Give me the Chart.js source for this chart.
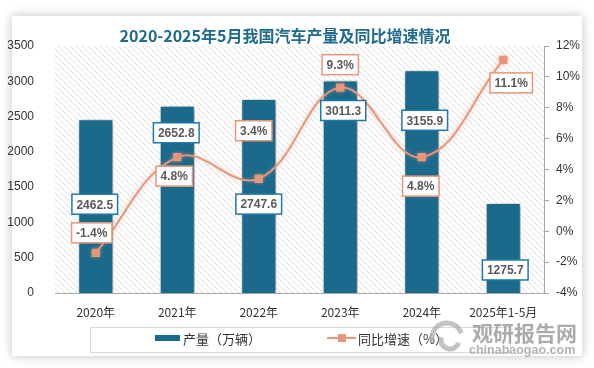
<!DOCTYPE html>
<html>
<head>
<meta charset="utf-8">
<script src="https://cdn.jsdelivr.net/npm/chart.js@4"></script>
<style>
  html, body { margin: 0; padding: 0; background: #fff; }
  #wrap { width: 594px; height: 368px; }
</style>
</head>
<body>
<div id="wrap"><canvas id="carChart" width="594" height="368"></canvas></div>
<script>
// 数据
const years = ['2020年', '2021年', '2022年', '2023年', '2024年', '2025年1-5月'];
const output = [2462.5, 2652.8, 2747.6, 3011.3, 3155.9, 1275.7];
const growth = [-1.4, 4.8, 3.4, 9.3, 4.8, 11.1];
const leftTicks = [0, 500, 1000, 1500, 2000, 2500, 3000, 3500];
const rightTicks = [-4, -2, 0, 2, 4, 6, 8, 10, 12];

// 标签偏移（像素）
const barLabelShift = [[-1, 85], [-1, 27], [0, 105], [3, 30], [3, 50], [2, 67]];
const lineLabelShift = [[-4, -20], [-3, 19], [-5, -48], [0, -23], [-1, 29], [8, 23]];

const BLUE = '#1b6a8c';
const SALMON = '#e8967a';

function hatchPattern(ctx) {
    const c = document.createElement('canvas');
    c.width = 6; c.height = 6;
    const p = c.getContext('2d');
    p.fillStyle = '#fff';
    p.fillRect(0, 0, 6, 6);
    p.strokeStyle = '#dcdcdc';
    p.lineWidth = 1;
    p.beginPath();
    p.moveTo(0, 0); p.lineTo(6, 6);
    p.moveTo(-3, 3); p.lineTo(3, 9);
    p.moveTo(3, -3); p.lineTo(9, 3);
    p.stroke();
    return ctx.createPattern(c, 'repeat');
}

function labelBox(ctx, text, x, y, border) {
    ctx.font = 'bold 12px "Liberation Sans", Arial, sans-serif';
    const w = ctx.measureText(text).width + 9;
    const h = 20;
    ctx.fillStyle = '#fff';
    ctx.fillRect(x - w / 2, y - h / 2, w, h);
    ctx.strokeStyle = border;
    ctx.lineWidth = 1.5;
    ctx.strokeRect(x - w / 2, y - h / 2, w, h);
    ctx.fillStyle = '#595959';
    ctx.textAlign = 'center';
    ctx.textBaseline = 'middle';
    ctx.fillText(text, x, y + 1);
}

const backdrop = {
    id: 'backdrop',
    beforeDraw(chart) {
        const ctx = chart.ctx;
        const a = chart.chartArea;
        ctx.save();
        ctx.shadowColor = 'rgba(0,0,0,0.25)';
        ctx.shadowBlur = 10;
        ctx.fillStyle = '#fff';
        ctx.fillRect(12, 16, 570, 340);
        ctx.restore();
        ctx.save();
        ctx.fillStyle = hatchPattern(ctx);
        ctx.fillRect(a.left, a.top, a.right - a.left, a.bottom - a.top);
        ctx.restore();
        // 标题
        ctx.save();
        ctx.font = 'bold 16px "Noto Sans CJK SC", sans-serif';
        ctx.fillStyle = '#1f6b8e';
        ctx.textAlign = 'center';
        ctx.textBaseline = 'middle';
        ctx.fillText('2020-2025年5月我国汽车产量及同比增速情况', 285, 36);
        ctx.restore();
    },
    beforeDatasetDraw(chart, args) {
        const ctx = chart.ctx;
        ctx.save();
        if (args.index === 0) {
            ctx.shadowColor = 'rgba(0,0,0,0.45)';
            ctx.shadowBlur = 6;
            ctx.shadowOffsetX = 2;
            ctx.shadowOffsetY = 1;
        } else {
            ctx.shadowColor = 'rgba(232,150,122,0.5)';
            ctx.shadowBlur = 4;
        }
    },
    afterDatasetDraw(chart) {
        chart.ctx.restore();
    },
    afterDraw(chart) {
        const ctx = chart.ctx;
        const bars = chart.getDatasetMeta(0).data;
        const pts = chart.getDatasetMeta(1).data;
        ctx.save();
        bars.forEach((b, i) => {
            labelBox(ctx, output[i].toFixed(1), b.x + barLabelShift[i][0], b.y + barLabelShift[i][1], '#1f78a8');
        });
        pts.forEach((p, i) => {
            labelBox(ctx, growth[i].toFixed(1) + '%', p.x + lineLabelShift[i][0], p.y + lineLabelShift[i][1], SALMON);
        });

        // 图例
        ctx.strokeStyle = '#d9d9d9';
        ctx.lineWidth = 1;
        ctx.strokeRect(90.5, 327.5, 420, 25);
        ctx.fillStyle = BLUE;
        ctx.fillRect(155, 335, 25, 6);
        ctx.font = '13px "Noto Sans CJK SC", sans-serif';
        ctx.fillStyle = '#333';
        ctx.textAlign = 'left';
        ctx.textBaseline = 'middle';
        ctx.fillText('产量（万辆）', 183, 339);
        ctx.strokeStyle = SALMON;
        ctx.lineWidth = 2;
        ctx.beginPath();
        ctx.moveTo(327, 338); ctx.lineTo(356, 338);
        ctx.stroke();
        ctx.fillStyle = SALMON;
        ctx.fillRect(338, 334, 8, 8);
        ctx.fillStyle = '#333';
        ctx.fillText('同比增速（%）', 358, 339);

        // 水印
        ctx.strokeStyle = 'rgba(170,170,170,0.7)';
        ctx.lineWidth = 5;
        ctx.beginPath();
        ctx.arc(447, 338, 15, Math.PI * 0.9, Math.PI * 1.9);
        ctx.stroke();
        ctx.beginPath();
        ctx.arc(450, 340, 9, Math.PI * 0.1, Math.PI * 1.1);
        ctx.stroke();
        ctx.font = 'bold 21px "Noto Sans CJK SC", sans-serif';
        ctx.fillStyle = 'rgba(150,150,150,0.8)';
        ctx.textAlign = 'left';
        ctx.fillText('观研报告网', 472, 333);
        ctx.font = 'bold 12.5px "Liberation Sans", Arial, sans-serif';
        ctx.fillStyle = 'rgba(160,160,160,0.8)';
        ctx.fillText('chinabaogao.com', 469, 351);
        ctx.restore();
    }
};

const ctx = document.getElementById('carChart').getContext('2d');
new Chart(ctx, {
    data: {
        labels: years,
        datasets: [{
            type: 'bar',
            label: '产量（万辆）',
            data: output,
            backgroundColor: BLUE,
            borderColor: '#fff',
            borderWidth: 1,
            categoryPercentage: 1,
            barPercentage: 0.43,
            yAxisID: 'y',
            order: 2
        }, {
            type: 'line',
            label: '同比增速（%）',
            data: growth,
            borderColor: SALMON,
            borderWidth: 2,
            tension: 0.4,
            pointStyle: 'rect',
            pointRadius: 4.5,
            pointBackgroundColor: SALMON,
            pointBorderColor: SALMON,
            yAxisID: 'y1',
            order: 1
        }]
    },
    options: {
        responsive: false,
        animation: false,
        layout: { padding: { top: 46, left: 0, right: 0, bottom: 0 } },
        plugins: {
            legend: { display: false },
            tooltip: { enabled: false }
        },
        scales: {
            x: {
                offset: true,
                grid: { display: false },
                border: { color: '#a6a6a6', width: 1 },
                ticks: { color: '#333', font: { size: 12, family: '"Noto Sans CJK SC", sans-serif' }, padding: 4 },
                afterFit(s) { s.height = 75; }
            },
            y: {
                position: 'left',
                min: 0,
                max: 3500,
                afterBuildTicks(s) { s.ticks = leftTicks.map(v => ({ value: v })); },
                grid: { display: false },
                border: { display: false },
                ticks: { color: '#333', font: { size: 12, family: '"Liberation Sans", Arial, sans-serif' }, padding: 13, callback: v => String(v) },
                afterFit(s) { s.width = 55; }
            },
            y1: {
                position: 'right',
                min: -4,
                max: 12,
                afterBuildTicks(s) { s.ticks = rightTicks.map(v => ({ value: v })); },
                grid: { drawOnChartArea: false, drawTicks: true, tickLength: 5, color: '#a6a6a6' },
                border: { color: '#a6a6a6', width: 1 },
                ticks: { color: '#333', font: { size: 12, family: '"Liberation Sans", Arial, sans-serif' }, padding: 7, callback: v => v + '%' },
                afterFit(s) { s.width = 50; }
            }
        }
    },
    plugins: [backdrop]
});
</script>
</body>
</html>
